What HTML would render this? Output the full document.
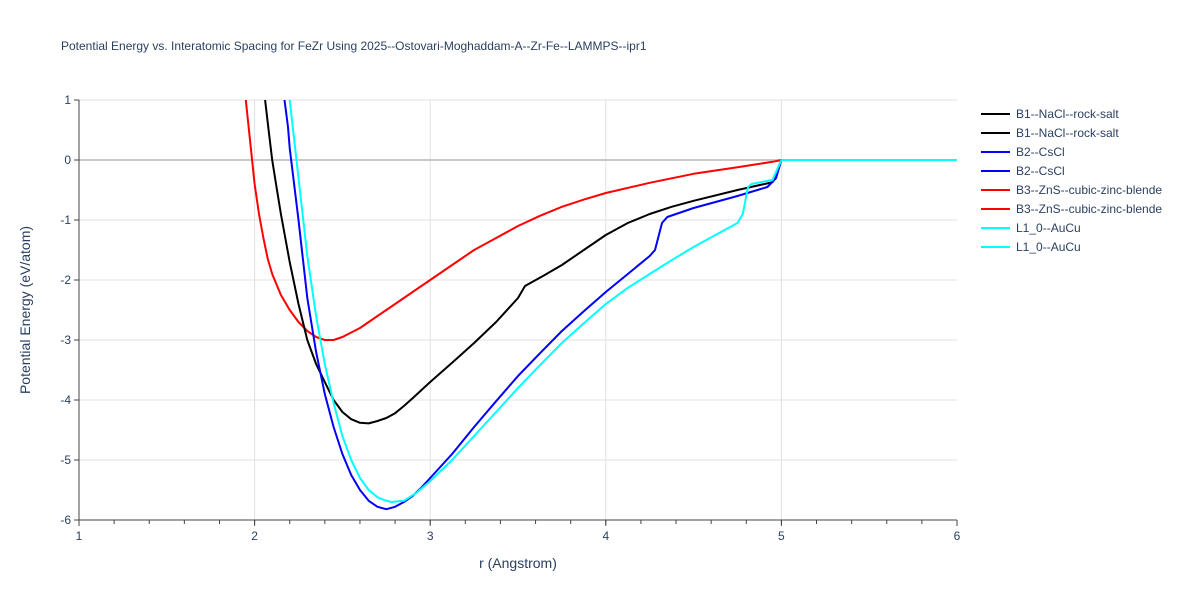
<!DOCTYPE html>
<html><head><meta charset="utf-8"><style>
body{margin:0;background:#fff;font-family:"Liberation Sans",Arial,sans-serif}
svg text{font-family:"Liberation Sans",Arial,sans-serif}
</style></head><body>
<svg id="chart" width="1200" height="600">
<text x="61" y="50" font-size="12" fill="#2a3f5f">Potential Energy vs. Interatomic Spacing for FeZr Using 2025--Ostovari-Moghaddam-A--Zr-Fe--LAMMPS--ipr1</text>
<defs><clipPath id="clip"><rect x="79" y="100" width="878" height="420"/></clipPath></defs>
<g id="grid"></g>
<g id="lines" clip-path="url(#clip)"></g>
<g id="axes"></g>
<text x="518" y="568" font-size="14" fill="#2a3f5f" text-anchor="middle">r (Angstrom)</text>
<text transform="translate(30,310) rotate(-90)" font-size="14" fill="#2a3f5f" text-anchor="middle">Potential Energy (eV/atom)</text>
<g id="legend"></g>
</svg>
<script>
const xTicks=[1,2,3,4,5,6];
const yTicks=[1,0,-1,-2,-3,-4,-5,-6];
const seriesNames=["B1--NaCl--rock-salt","B2--CsCl","B3--ZnS--cubic-zinc-blende","L1_0--AuCu"];
const seriesColors=["#000000","#0000ff","#ff0000","#00ffff"];
const b1R=[2.06,2.08,2.1,2.125,2.15,2.175,2.2,2.25,2.3,2.35,2.4,2.45,2.5,2.55,2.6,2.65,2.7,2.75,2.8,2.85,2.9,3.0,3.125,3.25,3.375,3.5,3.54,3.65,3.75,3.875,4.0,4.125,4.25,4.375,4.5,4.75,4.95,5.0,6.0];
const b1E=[1,0.5,0,-0.45,-0.9,-1.3,-1.7,-2.4,-3.0,-3.4,-3.7,-4.0,-4.2,-4.32,-4.38,-4.39,-4.35,-4.3,-4.22,-4.1,-3.97,-3.7,-3.38,-3.05,-2.7,-2.3,-2.1,-1.92,-1.75,-1.5,-1.25,-1.05,-0.9,-0.78,-0.68,-0.5,-0.37,0,0];
const b2R=[2.17,2.19,2.2,2.225,2.25,2.275,2.3,2.35,2.4,2.45,2.5,2.55,2.6,2.65,2.7,2.75,2.8,2.85,2.9,2.95,3.0,3.125,3.25,3.375,3.5,3.625,3.75,3.875,4.0,4.125,4.25,4.28,4.32,4.35,4.5,4.75,4.92,4.97,5.0,6.0];
const b2E=[1,0.55,0.2,-0.4,-1.0,-1.65,-2.3,-3.2,-3.9,-4.45,-4.9,-5.25,-5.5,-5.68,-5.78,-5.82,-5.78,-5.7,-5.6,-5.46,-5.3,-4.9,-4.45,-4.02,-3.6,-3.22,-2.85,-2.52,-2.2,-1.9,-1.6,-1.5,-1.05,-0.95,-0.8,-0.6,-0.45,-0.3,0,0];
const b3R=[1.95,1.975,2.0,2.025,2.05,2.075,2.1,2.15,2.2,2.25,2.3,2.35,2.4,2.45,2.5,2.6,2.7,2.8,2.9,3.0,3.125,3.25,3.375,3.5,3.625,3.75,3.875,4.0,4.25,4.5,4.75,4.95,5.0,6.0];
const b3E=[1.0,0.3,-0.4,-0.9,-1.3,-1.65,-1.9,-2.25,-2.5,-2.7,-2.85,-2.95,-3.0,-3.0,-2.95,-2.8,-2.6,-2.4,-2.2,-2.0,-1.75,-1.5,-1.3,-1.1,-0.93,-0.78,-0.66,-0.55,-0.38,-0.23,-0.12,-0.03,0,0];
const l10R=[2.2,2.225,2.25,2.275,2.3,2.35,2.4,2.45,2.5,2.55,2.6,2.65,2.7,2.74,2.78,2.85,2.92,3.0,3.125,3.25,3.375,3.5,3.625,3.75,3.875,4.0,4.125,4.25,4.375,4.5,4.625,4.75,4.78,4.81,4.83,4.95,5.0,6.0];
const l10E=[1,0.35,-0.3,-0.95,-1.6,-2.6,-3.4,-4.05,-4.6,-5.0,-5.3,-5.5,-5.62,-5.67,-5.7,-5.68,-5.55,-5.35,-5.0,-4.6,-4.2,-3.8,-3.42,-3.05,-2.72,-2.4,-2.13,-1.9,-1.67,-1.45,-1.25,-1.05,-0.9,-0.45,-0.4,-0.33,0,0];
const X=r=>79+(r-1)*175.6, Y=e=>160-e*60;
const NS="http://www.w3.org/2000/svg";
function mk(t,a,p){const e=document.createElementNS(NS,t);for(const k in a)e.setAttribute(k,a[k]);p.appendChild(e);return e;}
const grid=document.getElementById('grid'),axes=document.getElementById('axes');
xTicks.forEach(t=>{
 if(t>1&&t<6){const l=mk('line',{x1:X(t),x2:X(t),y1:100,y2:520,stroke:'#e0e0e0'},grid);
 
 }
 const tx=mk('text',{x:X(t),y:540,'font-size':12,fill:'#2a3f5f','text-anchor':'middle'},axes);tx.textContent=t;
 
 
});
for(let v=1.2;v<6;v+=0.2){mk('line',{x1:X(v),x2:X(v),y1:520,y2:524,stroke:'#444'},axes);}
xTicks.forEach(t=>mk('line',{x1:X(t),x2:X(t),y1:520,y2:526,stroke:'#444'},axes));
yTicks.forEach(t=>{
 if(t>-6){const l=mk('line',{x1:79,x2:957,y1:Y(t),y2:Y(t),stroke:t===0?'#c8c8c8':'#e0e0e0','stroke-width':t===0?2:1},grid);
 
 }
 mk('line',{x1:74,x2:79,y1:Y(t),y2:Y(t),stroke:'#444'},axes);
 const tx=mk('text',{x:71,y:Y(t)+4,'font-size':12,fill:'#2a3f5f','text-anchor':'end'},axes);tx.textContent=t;
 
 
});
mk('line',{x1:79,x2:79,y1:100,y2:520,stroke:'#444'},axes);
mk('line',{x1:79,x2:957,y1:520,y2:520,stroke:'#444'},axes);
const lines=document.getElementById('lines');
const data=[[b1R,b1E],[b2R,b2E],[b3R,b3E],[l10R,l10E]];
const order=[2,0,1,3];
order.forEach(i=>{
 const [R,E]=data[i];
 const d=R.map((r,j)=>(j?'L':'M')+X(r).toFixed(1)+','+Y(E[j]).toFixed(1)).join(' ');
 const p=mk('path',{d:d,fill:'none',stroke:seriesColors[i],'stroke-width':2,'stroke-linejoin':'round'},lines);
 
 
});
const lg=document.getElementById('legend');
let k=0;
seriesNames.forEach((n,i)=>{for(let c=0;c<2;c++){
 const y=114+k*19;
 const g=mk('g',{},lg);
 
 
 mk('line',{x1:981,x2:1010,y1:y,y2:y,stroke:seriesColors[i],'stroke-width':2},g);
 const t=mk('text',{x:1016,y:y+4,'font-size':12,fill:'#2a3f5f'},g);t.textContent=n;
 k++;}});
</script>
</body></html>
